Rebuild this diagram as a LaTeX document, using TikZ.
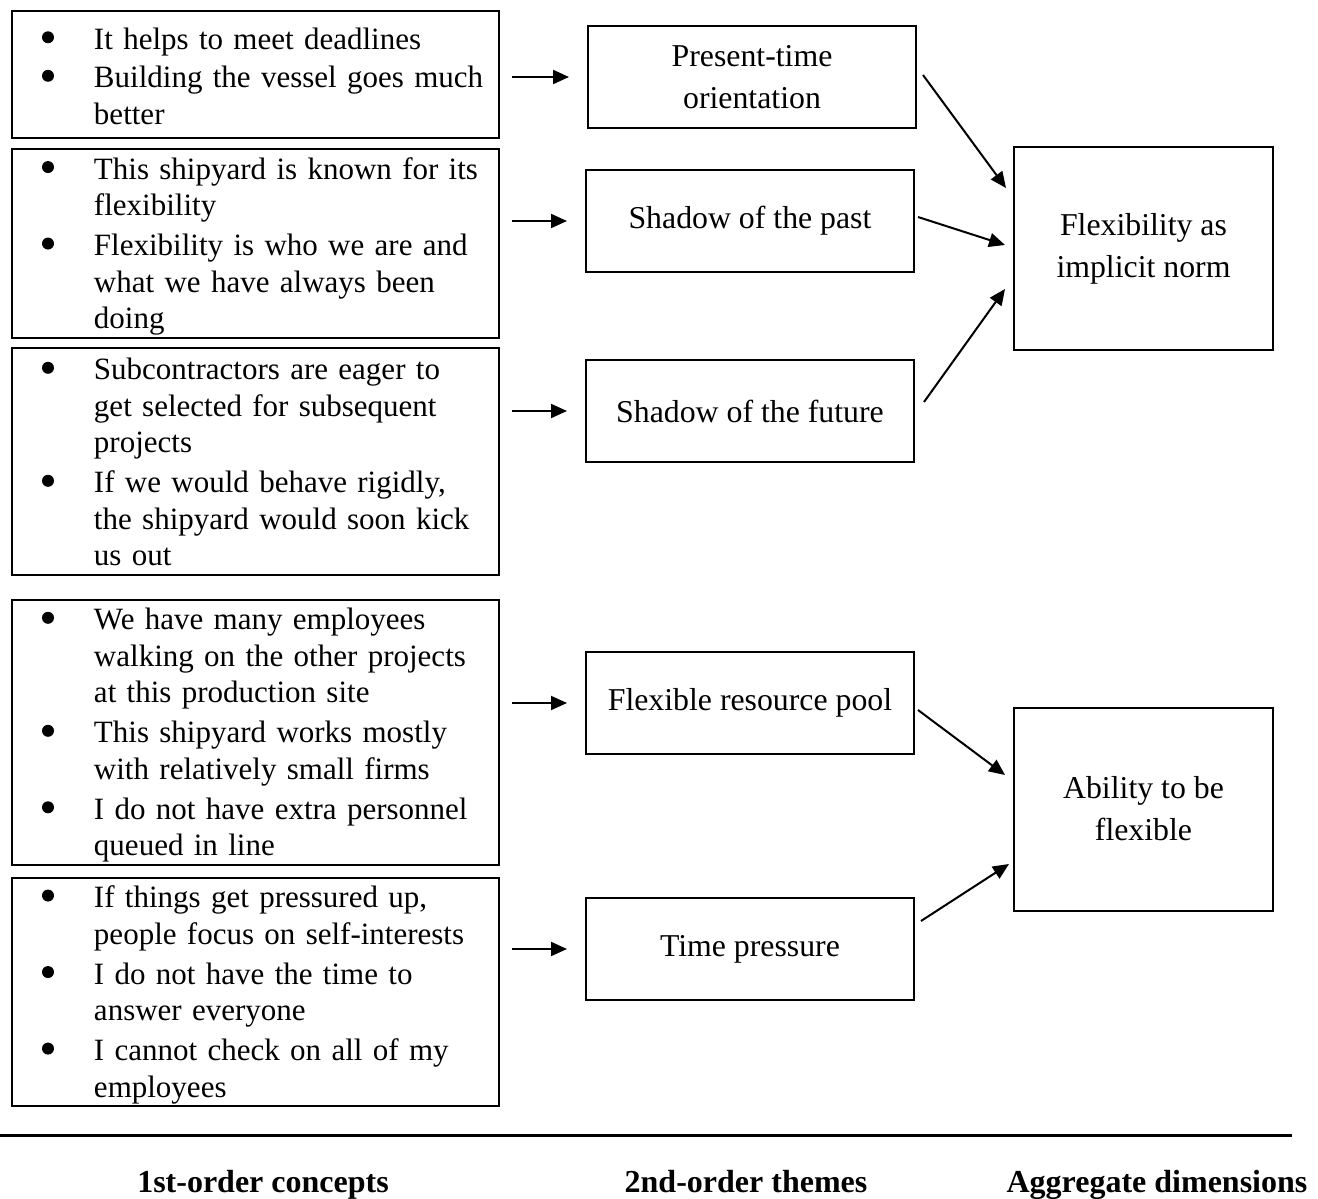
\documentclass[tikz,border=0pt]{standalone}
\usepackage{fontspec}
\setmainfont{Liberation Serif}
\usetikzlibrary{arrows.meta,calc}

\begin{document}
\begin{tikzpicture}[x=1pt,y=-1pt,
  every node/.style={font=\fontsize{31.8}{37}\selectfont},
  quotebox/.style={draw,line width=2pt,anchor=north west,inner xsep=0pt,inner ysep=0pt,
    minimum width=487pt,text width=487pt,align=left,font=\fontsize{31}{36.5}\selectfont},
  themebox/.style={draw,line width=2pt,minimum width=328pt,minimum height=102pt,align=center,inner sep=0pt},
  dimbox/.style={draw,line width=2pt,minimum width=259pt,minimum height=203pt,align=center,inner sep=0pt},
  arr/.style={line width=2pt,-{Triangle[length=16pt,width=14pt]}},
  caption/.style={font=\fontsize{32}{37}\selectfont\bfseries,anchor=base}]

\useasboundingbox (0,0) rectangle (1318,1199);

% bulleted list of quotes, lowered a little inside its frame
\newcommand{\dotmark}{\raisebox{6pt}{\tikz\fill (0,0) circle (6pt);}}
\newcommand{\qlist}[2][-5pt]{\raisebox{#1}[\height][\depth]{%
  \begin{tabular}{@{\hspace{30pt}}p{52pt}@{}l@{}}#2\end{tabular}}}

% first-order concepts
\node[quotebox,minimum height=127pt] (c1) at (11,10) {\qlist{%
  \dotmark & It helps to meet deadlines\\[2pt]
  \dotmark & Building the vessel goes much\\
  & better}};

\node[quotebox,minimum height=189pt] (c2) at (11,148) {\qlist[-3pt]{%
  \dotmark & This shipyard is known for its\\
  & flexibility\\[3.5pt]
  \dotmark & Flexibility is who we are and\\
  & what we have always been\\
  & doing}};

\node[quotebox,minimum height=227pt] (c3) at (11,347) {\qlist[-4pt]{%
  \dotmark & Subcontractors are eager to\\
  & get selected for subsequent\\
  & projects\\[3.5pt]
  \dotmark & If we would behave rigidly,\\
  & the shipyard would soon kick\\
  & us out}};

\node[quotebox,minimum height=265pt] (c4) at (11,599) {\qlist[-3pt]{%
  \dotmark & We have many employees\\
  & walking on the other projects\\
  & at this production site\\[3.5pt]
  \dotmark & This shipyard works mostly\\
  & with relatively small firms\\[3.5pt]
  \dotmark & I do not have extra personnel\\
  & queued in line}};

\node[quotebox,minimum height=228pt] (c5) at (11,877) {\qlist[-3pt]{%
  \dotmark & If things get pressured up,\\
  & people focus on self-interests\\[3.5pt]
  \dotmark & I do not have the time to\\
  & answer everyone\\[3.5pt]
  \dotmark & I cannot check on all of my\\
  & employees}};

% second-order themes
\node[themebox] (t1) at (752,77) {Present-time\\[5pt]orientation};
\node[themebox] (t2) at (750,221) {Shadow of the past};
\node[themebox] (t3) at (750,411) {Shadow of the future};
\node[themebox] (t4) at (750,703) {Flexible resource pool};
\node[themebox] (t5) at (750,949) {Time pressure};

% aggregate dimensions
\node[dimbox] (a1) at (1143.5,248.5) {Flexibility as\\[5pt]implicit norm};
\node[dimbox] (a2) at (1143.5,809) {Ability to be\\[5pt]flexible};

% concepts -> themes
\foreach \i in {1,...,5}
  \draw[arr,shorten <=12pt,shorten >=18pt] (t\i.west -| c\i.east) -- (t\i.west);

% themes -> dimensions
\draw[arr] ($(t1.east)+(6,-2)$) -- ($(a1.west)+(-7,-60.5)$);
\draw[arr] ($(t2.east)+(3,-4)$) -- ($(a1.west)+(-8,-3.5)$);
\draw[arr] ($(t3.east)+(9,-9)$) -- ($(a1.west)+(-8,40.5)$);
\draw[arr] ($(t4.east)+(3,7)$) -- ($(a2.west)+(-8,-34)$);
\draw[arr] ($(t5.east)+(6,-28)$) -- ($(a2.west)+(-4,55)$);

% column captions
\coordinate (ruleL) at (0,1135);
\coordinate (ruleR) at (1292,1135);
\draw[line width=3pt] (ruleL) -- (ruleR);
\node[caption] (k1) at (263,1192) {1st-order concepts};
\node[caption] (k2) at (746,1192) {2nd-order themes};
\node[caption] (k3) at (1157,1192) {Aggregate dimensions};

\end{tikzpicture}
\end{document}
